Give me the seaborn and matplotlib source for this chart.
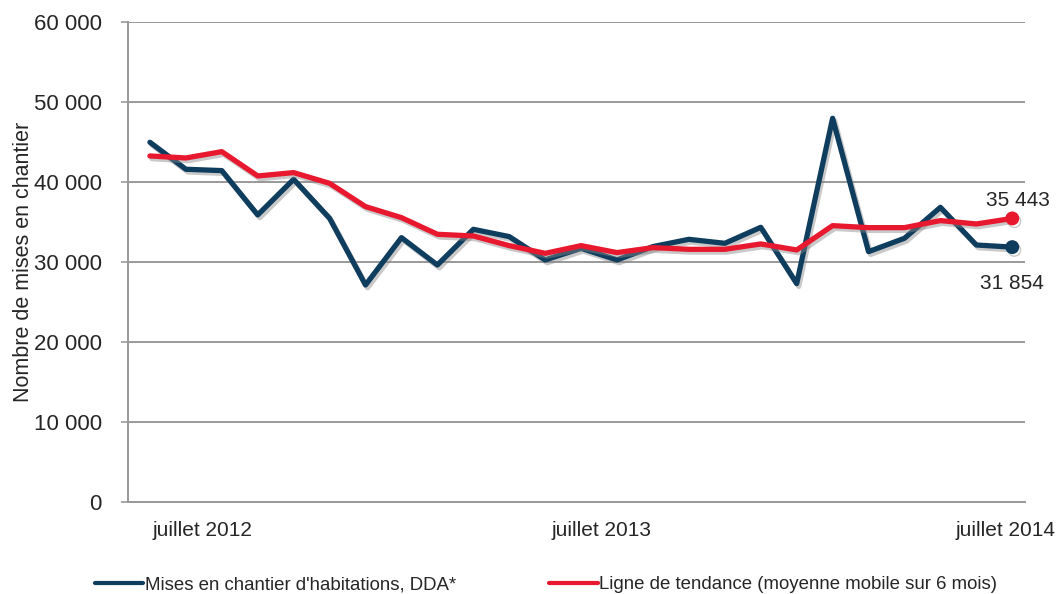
import numpy as np
import pandas as pd
import seaborn as sns
import matplotlib.pyplot as plt
import matplotlib.patheffects as pe

# monthly values, juillet 2012 -> juillet 2014
months = list(range(25))
mises = [44960, 41590, 41420, 35880, 40330, 35460, 27120, 33040, 29620, 34080,
         33170, 30250, 31710, 30250, 31920, 32830, 32330, 34330, 27290, 47960,
         31290, 32960, 36830, 32120, 31854]
tendance = [43250, 43000, 43790, 40750, 41170, 39830, 36920, 35540, 33460, 33250,
            32040, 31080, 32040, 31170, 31790, 31580, 31580, 32250, 31500, 34540,
            34290, 34290, 35170, 34750, 35443]
x_labels = ["juillet 2012", "juillet 2013", "juillet 2014"]
x_label_pos = [1.47, 12.56, 23.8]
y_ticks = [0, 10000, 20000, 30000, 40000, 50000, 60000]

name_a = "Mises en chantier d'habitations, DDA*"
name_b = "Ligne de tendance (moyenne mobile sur 6 mois)"
df = pd.DataFrame({"mois": months * 2,
                   "valeur": mises + tendance,
                   "serie": [name_a] * 25 + [name_b] * 25})

sns.set_style("white")
plt.rcParams['font.family'] = ['Liberation Sans', 'DejaVu Sans']

c_dark = "#0f3d5e"
c_red = "#e8192f"

fig = plt.figure(figsize=(10.58, 5.94), dpi=100)
ax = fig.add_axes([0.121, 0.155, 0.848, 0.808])

shadow = [pe.SimpleLineShadow(offset=(1.5, -2), shadow_color="#888888", alpha=0.45), pe.Normal()]
sns.lineplot(data=df, x="mois", y="valeur", hue="serie",
             palette={name_a: c_dark, name_b: c_red}, linewidth=3.8, ax=ax,
             path_effects=shadow, zorder=3)

# end markers
ax.plot(months[-1], mises[-1], "o", color=c_dark, markersize=9, zorder=4, path_effects=shadow)
ax.plot(months[-1], tendance[-1], "o", color=c_red, markersize=9, zorder=4, path_effects=shadow)
ax.annotate(f"{tendance[-1]:,}".replace(",", " "), (months[-1], tendance[-1]),
            xytext=(4, 13), textcoords="offset points", ha="center", va="center", fontsize=15)
ax.annotate(f"{mises[-1]:,}".replace(",", " "), (months[-1], mises[-1]),
            xytext=(0, -26), textcoords="offset points", ha="center", va="center", fontsize=15)

ax.set_xlim(-0.61, 24.36)
ax.set_ylim(0, 60000)
ax.set_yticks(y_ticks)
ax.set_yticklabels([f"{v:,}".replace(",", " ") for v in y_ticks], fontsize=16)
ax.set_xticks(x_label_pos)
ax.set_xticklabels(x_labels, fontsize=15)
ax.tick_params(axis="x", length=0, pad=14)
ax.tick_params(axis="y", length=5, width=1.2, color="#999999", direction="out", pad=14, left=True)
ax.grid(axis="y", color="#999999", linewidth=1.4)
ax.set_axisbelow(True)
for s in ["top", "right"]:
    ax.spines[s].set_visible(False)
for s in ["left", "bottom"]:
    ax.spines[s].set_color("#999999")
    ax.spines[s].set_linewidth(1.4)

ax.set_xlabel("")
ax.set_ylabel("Nombre de mises en chantier", fontsize=15.5, labelpad=0)

handles, labels = ax.get_legend_handles_labels()
for h in handles:
    h.set_path_effects([])
    h.set_linewidth(3)
ax.legend(handles, labels, loc="lower center", bbox_to_anchor=(0.466, -0.225),
          ncol=2, frameon=False, prop={"size": 13.4},
          handlelength=2.6, handletextpad=0.1, columnspacing=5)

fig.savefig("out.png", dpi=100)
